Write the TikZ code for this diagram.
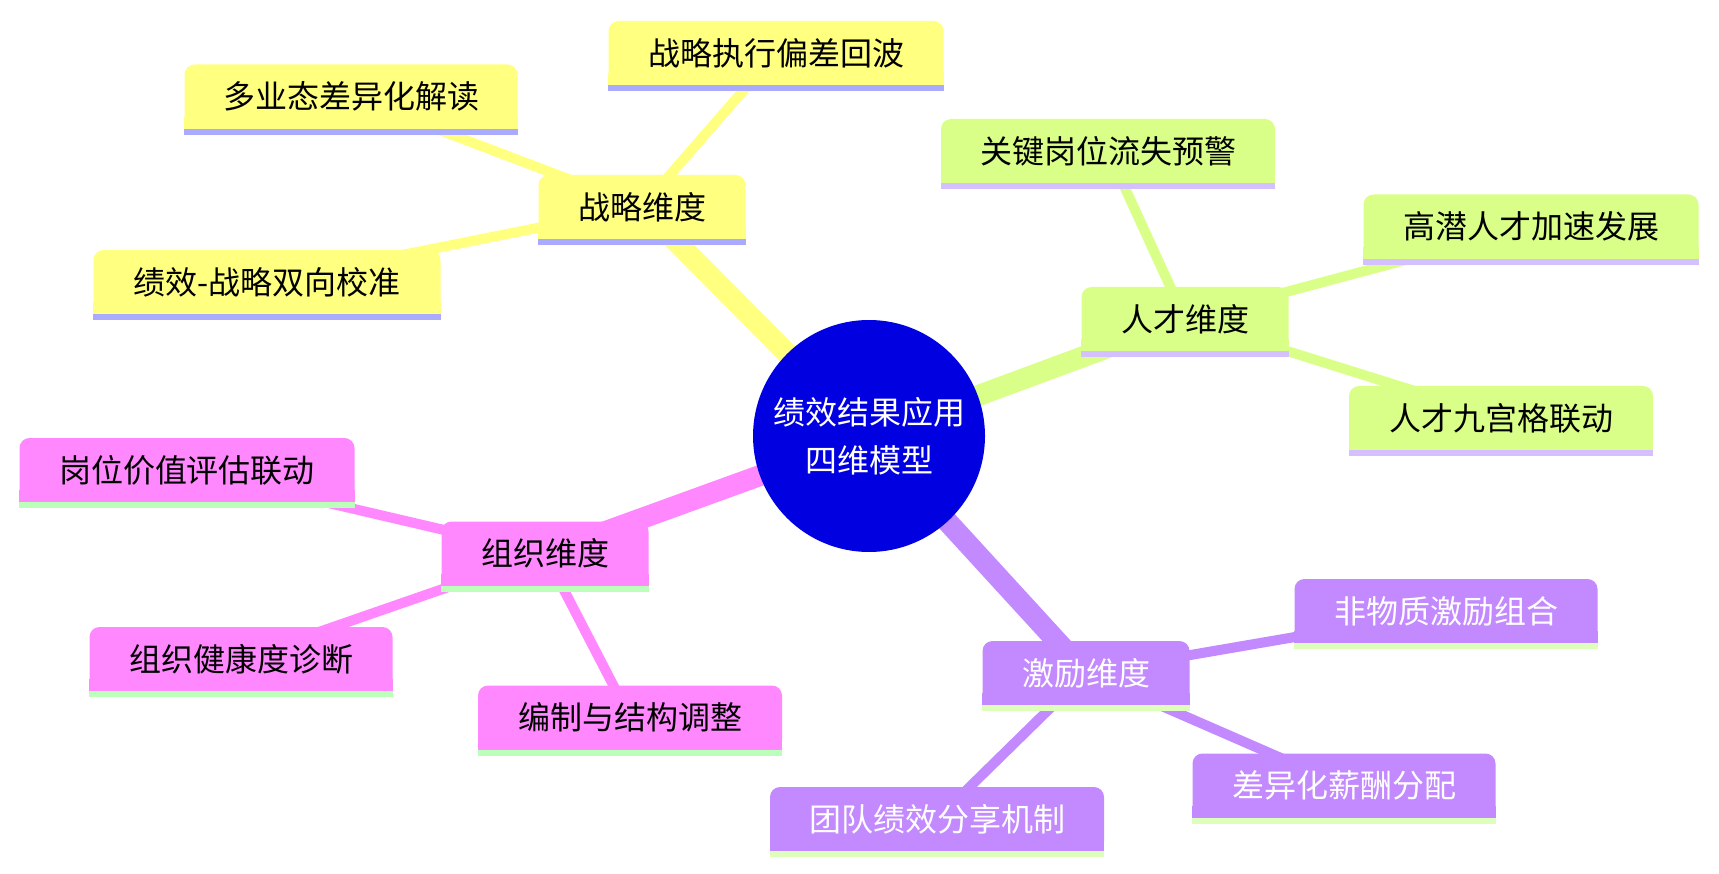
\documentclass[tikz,border=0pt]{standalone}
\usepackage{fontspec}
\newfontfamily\cjk{Noto Sans CJK SC}
\usetikzlibrary{backgrounds}
\definecolor{yfill}{RGB}{255,255,128}
\definecolor{yline}{RGB}{170,170,255}
\definecolor{gfill}{RGB}{218,255,136}
\definecolor{gline}{RGB}{212,191,255}
\definecolor{pfill}{RGB}{255,136,255}
\definecolor{pline}{RGB}{187,255,187}
\definecolor{vfill}{RGB}{195,137,255}
\definecolor{vline}{RGB}{221,255,187}
\definecolor{cblue}{RGB}{0,0,224}
\tikzset{
  boxnode/.style={rectangle, rounded corners=10pt, minimum height=64pt, inner sep=0pt,
    font=\cjk\fontsize{32}{38}\selectfont},
  mainlink/.style={line width=21pt},
  sublink/.style={line width=10pt},
  centernode/.style={circle, fill=cblue, text=white, minimum size=232pt, inner sep=0pt,
    align=center, font=\cjk\fontsize{32}{48}\selectfont}
}
\newcommand\mmbox[7]{%
  \node[boxnode, fill=#4, text=#6, minimum width=#3pt] (#1) at (#2) {#7};
  \fill[#4] ([yshift=12pt]#1.south west) rectangle (#1.south east);
  \fill[#5] (#1.south west) rectangle ([yshift=-6pt]#1.south east);
}
\begin{document}
\begin{tikzpicture}[x=1pt,y=-1pt]
\useasboundingbox (0,0) rectangle (1719,874);
\node[centernode] (C) at (869,436) {绩效结果应用\\四维模型};
% strategy
\mmbox{S}{642,207}{207}{yfill}{yline}{black}{战略维度}
\mmbox{S1}{776,53}{335}{yfill}{yline}{black}{战略执行偏差回波}
\mmbox{S2}{351,96.5}{333}{yfill}{yline}{black}{多业态差异化解读}
\mmbox{S3}{267,282}{347}{yfill}{yline}{black}{绩效-战略双向校准}
% talent
\mmbox{T}{1185,319}{207}{gfill}{gline}{black}{人才维度}
\mmbox{T1}{1108,151}{334}{gfill}{gline}{black}{关键岗位流失预警}
\mmbox{T2}{1531,226.5}{335}{gfill}{gline}{black}{高潜人才加速发展}
\mmbox{T3}{1501,418}{304}{gfill}{gline}{black}{人才九宫格联动}
% organisation
\mmbox{O}{545,553.5}{207}{pfill}{pline}{black}{组织维度}
\mmbox{O1}{187,470}{335}{pfill}{pline}{black}{岗位价值评估联动}
\mmbox{O2}{241,659}{303}{pfill}{pline}{black}{组织健康度诊断}
\mmbox{O3}{630,717.5}{304}{pfill}{pline}{black}{编制与结构调整}
% incentive
\mmbox{I}{1086,673}{207}{vfill}{vline}{white}{激励维度}
\mmbox{I1}{1446,611}{303}{vfill}{vline}{white}{非物质激励组合}
\mmbox{I2}{1344,785.5}{303}{vfill}{vline}{white}{差异化薪酬分配}
\mmbox{I3}{937,819}{334}{vfill}{vline}{white}{团队绩效分享机制}
\begin{pgfonlayer}{background}
  \draw[mainlink, yfill] (C.center) -- (S.center);
  \draw[mainlink, gfill] (C.center) -- (T.center);
  \draw[mainlink, pfill] (C.center) -- (O.center);
  \draw[mainlink, vfill] (C.center) -- (I.center);
  \foreach \k in {1,2,3} {
    \draw[sublink, yfill] (S.center) -- (S\k.center);
    \draw[sublink, gfill] (T.center) -- (T\k.center);
    \draw[sublink, pfill] (O.center) -- (O\k.center);
    \draw[sublink, vfill] (I.center) -- (I\k.center);
  }
\end{pgfonlayer}
\end{tikzpicture}
\end{document}
